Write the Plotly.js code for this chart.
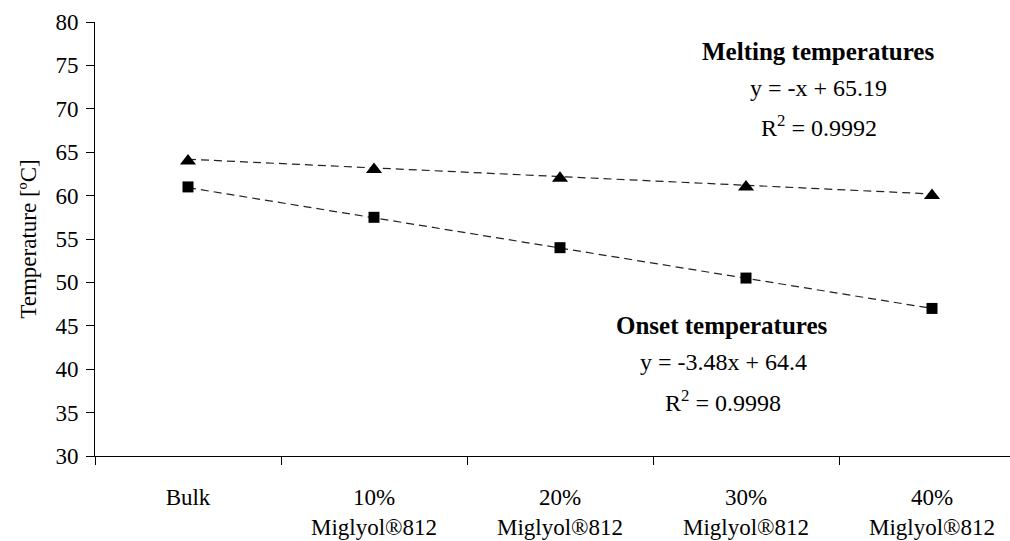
<!DOCTYPE html>
<html>
<head>
<meta charset="utf-8">
<script src="https://cdn.plot.ly/plotly-3.0.1.min.js"></script>
<style>
html,body{margin:0;padding:0;overflow:hidden;background:#fff;}
#chart{width:1026px;height:541px;}
</style>
</head>
<body>
<div id="chart"></div>
<script>
const categories = ["Bulk", "10%<br>Miglyol®812", "20%<br>Miglyol®812", "30%<br>Miglyol®812", "40%<br>Miglyol®812"];
const meltingValues = [64, 63, 62, 61, 60];
const onsetValues = [61, 57.5, 54, 50.5, 47];
// linear trendline coefficients as printed on the chart (x = 1..5)
const meltingSlope = -1, meltingIntercept = 65.19;
const onsetSlope = -3.48, onsetIntercept = 64.4;
const trendIndex = [1, 2, 3, 4, 5];

const meltingTrend = trendIndex.map(i => meltingSlope * i + meltingIntercept);
const onsetTrend = trendIndex.map(i => onsetSlope * i + onsetIntercept);

const FONT = '"Liberation Serif", "Times New Roman", serif';

const data = [
  {x: categories, y: meltingTrend, type: 'scatter', mode: 'lines',
   line: {color: '#222', width: 1.2, dash: '8px,5px'}, hoverinfo: 'skip', showlegend: false},
  {x: categories, y: onsetTrend, type: 'scatter', mode: 'lines',
   line: {color: '#222', width: 1.2, dash: '8px,5px'}, hoverinfo: 'skip', showlegend: false},
  {x: categories, y: meltingValues, type: 'scatter', mode: 'markers', name: 'Melting temperatures',
   marker: {symbol: 'triangle-up', size: 14, color: '#000'}, showlegend: false},
  {x: categories, y: onsetValues, type: 'scatter', mode: 'markers', name: 'Onset temperatures',
   marker: {symbol: 'square', size: 11, color: '#000'}, showlegend: false}
];

const x0 = 94.5, pw = 931, y0 = 456.5, ph = 434.5;
const px = v => (v - x0) / pw;
const py = v => (y0 - v) / ph;

function ann(text, x, y, bold) {
  return {text: bold ? '<b>' + text + '</b>' : text, xref: 'paper', yref: 'paper',
    x: px(x), y: py(y), xanchor: 'center', yanchor: 'middle', showarrow: false,
    font: {family: FONT, size: bold ? 25 : 24, color: '#000'}};
}

const layout = {
  width: 1026, height: 541,
  margin: {l: 94.5, r: 0.5, t: 22, b: 84.5},
  paper_bgcolor: '#fff', plot_bgcolor: '#fff',
  font: {family: FONT, size: 22, color: '#000'},
  showlegend: false,
  xaxis: {
    type: 'category', tickson: 'boundaries', ticks: 'outside', ticklen: 8, tickwidth: 1,
    tickcolor: '#000', showline: true, linecolor: '#000', linewidth: 1,
    showgrid: false, zeroline: false, range: [-0.5, 4.5],
    ticklabelstandoff: 20,
    tickfont: {family: FONT, size: 23, color: '#000'}
  },
  yaxis: {
    range: [30, 80], dtick: 5, tick0: 30, ticks: 'outside', ticklen: 8, tickwidth: 1,
    tickcolor: '#000', showline: true, linecolor: '#000', linewidth: 1,
    showgrid: false, zeroline: false, ticklabelstandoff: 3,
    tickfont: {family: FONT, size: 23, color: '#000'},
    title: {text: 'Temperature [ºC]', font: {family: FONT, size: 23, color: '#000'}, standoff: 12}
  },
  annotations: [
    ann('Melting temperatures', 818, 52, true),
    ann('y = -x + 65.19', 819, 88, false),
    ann('R<sup>2</sup> = 0.9992', 819, 126, false),
    ann('Onset temperatures', 722, 326, true),
    ann('y = -3.48x + 64.4', 724, 362, false),
    ann('R<sup>2</sup> = 0.9998', 723, 401, false)
  ]
};

Plotly.newPlot('chart', data, layout, {displayModeBar: false, staticPlot: true});
</script>
</body>
</html>
